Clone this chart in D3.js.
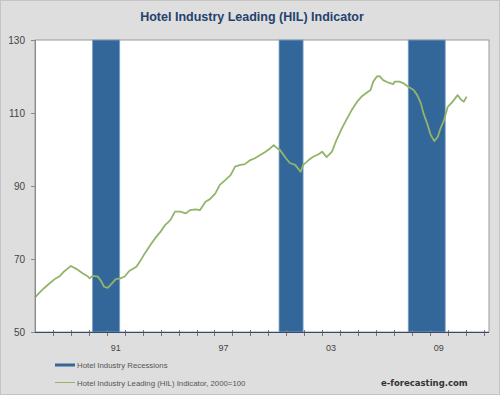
<!DOCTYPE html>
<html>
<head>
<meta charset="utf-8">
<script src="https://cdn.jsdelivr.net/npm/d3@7"></script>
<style>
  body { margin: 0; background: #fff; }
  svg { display: block; font-family: "Liberation Sans", Arial, sans-serif; }
</style>
</head>
<body>
<div id="chart"></div>
<script>
// HIL indicator (decimal year, 2000=100)
const years = [1987.0, 1987.25, 1987.5, 1987.8, 1988.1, 1988.35, 1988.6, 1988.8, 1989.0, 1989.3,
  1989.65, 1989.95, 1990.05, 1990.2, 1990.5, 1990.7, 1990.85, 1991.05, 1991.25, 1991.5,
  1991.75, 1992.0, 1992.25, 1992.65, 1992.9, 1993.1, 1993.3, 1993.45, 1993.7, 1994.0,
  1994.25, 1994.55, 1994.8, 1995.1, 1995.4, 1995.65, 1995.95, 1996.2, 1996.5, 1996.75,
  1997.05, 1997.3, 1997.6, 1997.9, 1998.15, 1998.45, 1998.7, 1999.0, 1999.25, 1999.55,
  1999.85, 2000.1, 2000.3, 2000.5, 2000.65, 2000.95, 2001.2, 2001.5, 2001.8, 2001.95,
  2002.25, 2002.5, 2002.8, 2003.0, 2003.25, 2003.55, 2003.8, 2004.1, 2004.4, 2004.65,
  2004.95, 2005.2, 2005.5, 2005.7, 2005.85, 2006.05, 2006.2, 2006.4, 2006.7, 2006.95,
  2007.05, 2007.3, 2007.55, 2007.8, 2008.1, 2008.3, 2008.5, 2008.65, 2008.85, 2009.05,
  2009.25, 2009.45, 2009.6, 2009.8, 2010.0, 2010.2, 2010.35, 2010.55, 2010.75, 2010.9, 2011.05];
const hil = [59.5, 60.8, 62.0, 63.3, 64.5, 65.2, 66.5, 67.3, 68.1, 67.3,
  66.1, 65.2, 64.7, 65.4, 65.2, 63.8, 62.4, 62.1, 63.1, 64.5,
  64.7, 65.2, 66.7, 67.9, 69.7, 71.4, 72.9, 74.0, 75.7, 77.5,
  79.3, 80.7, 83.0, 83.0, 82.5, 83.4, 83.6, 83.4, 85.7, 86.4,
  88.0, 90.3, 91.6, 93.0, 95.3, 95.8, 96.0, 97.1, 97.6, 98.5,
  99.4, 100.3, 101.2, 100.3, 99.9, 97.8, 96.3, 95.8, 93.9, 95.8,
  97.1, 98.0, 98.7, 99.4, 97.9, 99.4, 102.6, 105.8, 108.6, 110.8,
  113.1, 114.5, 115.6, 116.3, 118.6, 120.0, 120.1, 119.0, 118.3, 117.9,
  118.6, 118.6, 118.1, 117.2, 116.3, 114.9, 112.7, 109.9, 107.2, 104.0,
  102.3, 103.5, 105.8, 108.1, 111.7, 112.7, 113.6, 114.9, 113.6, 113.1, 114.5];

// recession shading
const recStart = [1990.2, 2000.6, 2007.8];
const recEnd = [1991.72, 2001.94, 2009.86];

const yTicks = [50, 70, 90, 110, 130];
const xLabelYears = [1991, 1997, 2003, 2009];
const xLabels = ["91", "97", "03", "09"];

const W = 500, H = 395;
const plot = {left: 35, right: 489, top: 40, bottom: 332};

const svg = d3.select("#chart").append("svg")
  .attr("width", W)
  .attr("height", H);

svg.append("rect")
  .attr("x", 0.5).attr("y", 0.5)
  .attr("width", W - 1).attr("height", H - 1)
  .attr("fill", "#dedede")
  .attr("stroke", "#c4c4c4");

const x = d3.scaleLinear()
  .domain([1987, 2012.3])
  .range([plot.left, plot.right]);

const y = d3.scaleLinear()
  .domain([50, 130])
  .range([plot.bottom, plot.top]);

// plot area
svg.append("rect")
  .attr("x", plot.left).attr("y", plot.top)
  .attr("width", plot.right - plot.left)
  .attr("height", plot.bottom - plot.top)
  .attr("fill", "#fff")
  .attr("stroke", "#9a9a9a");

svg.append("g").selectAll("rect")
  .data(recStart)
  .join("rect")
  .attr("x", d => x(d))
  .attr("y", plot.top)
  .attr("width", (d, i) => x(recEnd[i]) - x(d))
  .attr("height", plot.bottom - plot.top)
  .attr("fill", "#336699")
  .attr("stroke", "#7fa3c8")
  .attr("stroke-width", 0.8);

const line = d3.line()
  .x((d, i) => x(years[i]))
  .y(d => y(d));

svg.append("path")
  .datum(hil)
  .attr("d", line)
  .attr("fill", "none")
  .attr("stroke", "#93b46b")
  .attr("stroke-width", 1.8)
  .attr("stroke-linejoin", "round");

// y axis
svg.append("line")
  .attr("x1", plot.left + 0.5).attr("x2", plot.left + 0.5)
  .attr("y1", plot.top).attr("y2", plot.bottom)
  .attr("stroke", "#8a8a8a");

const yg = svg.append("g");
yg.selectAll("line")
  .data(yTicks)
  .join("line")
  .attr("x1", plot.left - 4).attr("x2", plot.left)
  .attr("y1", d => Math.round(y(d)) + 0.5)
  .attr("y2", d => Math.round(y(d)) + 0.5)
  .attr("stroke", "#8a8a8a");
yg.selectAll("text")
  .data(yTicks)
  .join("text")
  .attr("x", 25)
  .attr("y", d => y(d) + 3.5)
  .attr("text-anchor", "end")
  .style("font-size", "10px")
  .attr("fill", "#444")
  .text(d => d);

// x axis
svg.append("g").selectAll("line")
  .data(d3.range(1988, 2013))
  .join("line")
  .attr("x1", d => Math.round(x(d)) + 0.5)
  .attr("x2", d => Math.round(x(d)) + 0.5)
  .attr("y1", plot.bottom - 2).attr("y2", plot.bottom + 4)
  .attr("stroke", "#777");

svg.append("line")
  .attr("x1", plot.left).attr("x2", plot.right)
  .attr("y1", plot.bottom + 0.5).attr("y2", plot.bottom + 0.5)
  .attr("stroke", "#3a4a6e");

svg.append("g").selectAll("text")
  .data(xLabelYears)
  .join("text")
  .attr("x", d => x(d + 0.5))
  .attr("y", 351)
  .attr("text-anchor", "middle")
  .style("font-size", "9px")
  .attr("fill", "#444")
  .text((d, i) => xLabels[i]);

// title
svg.append("text")
  .attr("x", 252).attr("y", 21)
  .attr("text-anchor", "middle")
  .style("font-size", "12.5px")
  .style("font-weight", "bold")
  .attr("fill", "#25426e")
  .text("Hotel Industry Leading (HIL) Indicator");

// legend
const lg = svg.append("g");
lg.append("rect")
  .attr("x", 55).attr("y", 363.5)
  .attr("width", 20).attr("height", 3)
  .attr("fill", "#336699");
lg.append("text")
  .attr("x", 77).attr("y", 368)
  .style("font-size", "7.8px")
  .attr("fill", "#555")
  .text("Hotel Industry Recessions");
lg.append("line")
  .attr("x1", 55).attr("x2", 75)
  .attr("y1", 382.5).attr("y2", 382.5)
  .attr("stroke", "#93b46b")
  .attr("stroke-width", 1);
lg.append("text")
  .attr("x", 77).attr("y", 385.5)
  .style("font-size", "7.8px")
  .attr("fill", "#555")
  .text("Hotel Industry Leading (HIL) Indicator, 2000=100");

svg.append("text")
  .attr("x", 381).attr("y", 386)
  .style("font-family", "'DejaVu Sans', Verdana, sans-serif")
  .style("font-size", "8.5px")
  .style("font-weight", "bold")
  .attr("fill", "#333")
  .text("e-forecasting.com");
</script>
</body>
</html>
